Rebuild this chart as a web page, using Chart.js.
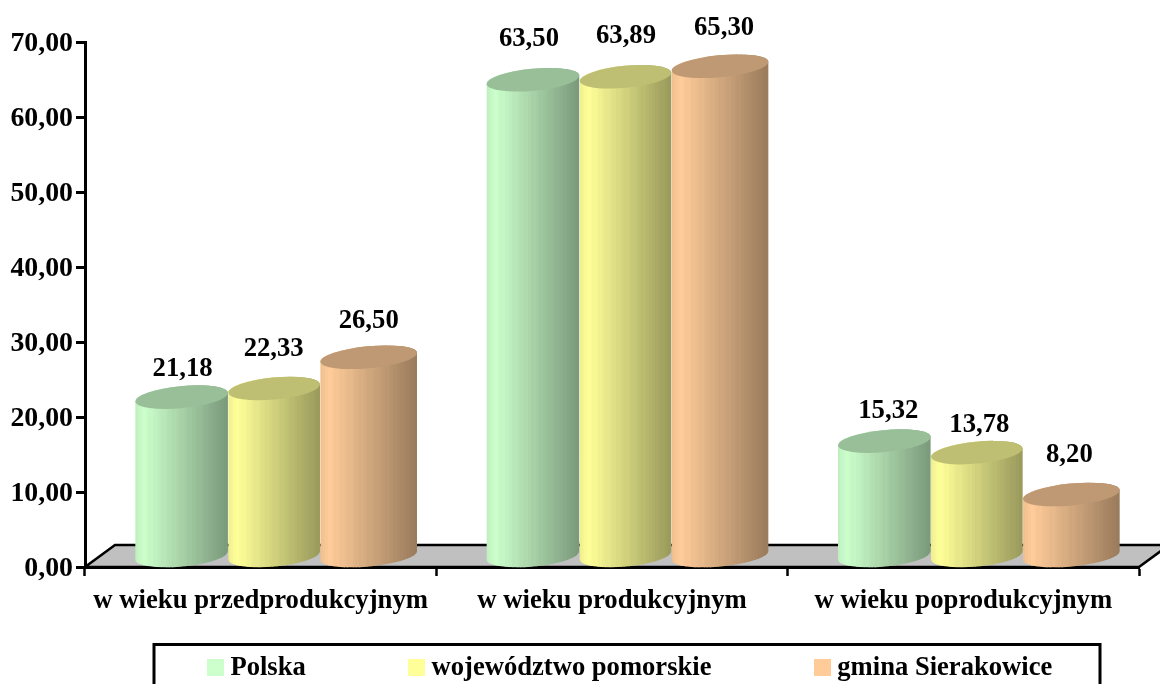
<!DOCTYPE html>
<html><head><meta charset="utf-8">
<style>html,body{margin:0;padding:0;background:#fff;overflow:hidden}canvas{display:block}</style>
<script src="https://cdn.jsdelivr.net/npm/chart.js@4"></script>
</head><body><canvas id="c" width="1160" height="684"></canvas>
<script>
const categories = ['w wieku przedprodukcyjnym', 'w wieku produkcyjnym', 'w wieku poprodukcyjnym'];
const seriesNames = ['Polska', 'województwo pomorskie', 'gmina Sierakowice'];
const polska = [21.18, 63.50, 15.32];
const pomorskie = [22.33, 63.89, 13.78];
const sierakowice = [26.50, 65.30, 8.20];
const seriesColors = [[204,255,204], [255,255,153], [255,204,153]];
// hand placement of the value labels relative to the bar top [dx, dy]
const labelNudge = [
  [[1,-28],[-2,-39],[-1,-36]],
  [[-4,-41],[-1,-41],[3,-38]],
  [[4,-30],[1,-28],[-3,-39]]
];
// small left/right overlap of each series' cylinder, as in the 3-D original
const cylinderGrow = [[0,-1],[1,-3],[3,0]];
const FONT = '"Liberation Serif","Times New Roman",serif';
const DX = 15.5, DY = 11, ROT = -5.4*Math.PI/180;
const fmt = v => Number(v).toFixed(2).replace('.', ',');
const rgb = (c,f,a=1) => `rgba(${Math.round(c[0]*f)},${Math.round(c[1]*f)},${Math.round(c[2]*f)},${a})`;

function marker(c){
  const m=document.createElement('canvas'); m.width=17; m.height=17;
  const x=m.getContext('2d'); x.fillStyle=rgb(c,1); x.fillRect(0,0,17,17); return m;
}
const stripWidths=[.03,.025,.03,.035,.02,.06,.045,.03,.06,.025,.035,.05,.03,.055,.025,.05,.03,.025,.05,.03,.04,.03,.04,.03,.035,.03,.035];

function cylinder(ctx,bar,c,grow){
  const w=bar.width+grow[0]+grow[1], rx=w/2, ry=11, cx=bar.x+DX+(grow[1]-grow[0])/2, topY=bar.y-DY, baseY=bar.base-DY;
  const lx=cx-rx, cosv=Math.cos(ROT), sinv=Math.sin(ROT);
  ctx.save();
  ctx.beginPath();
  ctx.ellipse(cx,baseY,rx,ry,ROT,0,Math.PI,false);
  ctx.lineTo(cx-rx*cosv,topY-rx*sinv);
  ctx.ellipse(cx,topY,rx,ry,ROT,Math.PI,2*Math.PI,false);
  ctx.closePath();
  ctx.clip();
  let t=0; const total=stripWidths.reduce((a,b)=>a+b,0);
  stripWidths.forEach((s,i)=>{
    const n=s/total, mid=t+n/2;
    const f= mid<.1 ? .93+.07*mid/.1 : 1-.40*(mid-.1)/.9;
    const x0=lx+t*w, x1=lx+(t+n)*w;
    ctx.fillStyle=rgb(c,f);
    ctx.fillRect(x0-.5,topY-30,x1-x0+1,baseY-topY+60);
    if(i>1&&(i%2===1||i>14)){ ctx.fillStyle='rgba(255,255,255,.28)'; ctx.fillRect(Math.round(x1),topY-30,1,baseY-topY+60); }
    if(!(i>=6&&i<=9)){ ctx.fillStyle='rgba(0,0,0,.42)'; ctx.fillRect(Math.round(x1),bar.base-25,1,4); }
    t+=n;
  });
  ctx.restore();
  ctx.beginPath();
  ctx.ellipse(cx,topY,rx,ry,ROT,0,2*Math.PI);
  ctx.fillStyle=rgb(c,.75);
  ctx.fill();
}
const cylinders={
  id:'cylinders',
  beforeDraw(chart){
    const {ctx,chartArea:a}=chart;
    ctx.save();
    ctx.beginPath();
    ctx.moveTo(a.left,a.bottom);ctx.lineTo(a.left+30,a.bottom-22);
    ctx.lineTo(a.right+30,a.bottom-22);ctx.lineTo(a.right,a.bottom);ctx.closePath();
    ctx.fillStyle='#C0C0C0';ctx.fill();
    ctx.strokeStyle='#000';ctx.lineWidth=2.5;ctx.stroke();
    ctx.restore();
  },
  beforeDatasetsDraw(chart){
    const ctx=chart.ctx;
    chart.data.datasets.forEach((d,i)=>{
      chart.getDatasetMeta(i).data.forEach(bar=>cylinder(ctx,bar,seriesColors[i],cylinderGrow[i]));
    });
    ctx.save();
    ctx.fillStyle='#000';ctx.font='bold 26.7px '+FONT;ctx.textAlign='center';ctx.textBaseline='middle';
    chart.data.datasets.forEach((d,i)=>{
      chart.getDatasetMeta(i).data.forEach((bar,j)=>{
        const n=labelNudge[j][i];
        ctx.fillText(fmt(d.data[j]),bar.x+15+n[0],bar.y-DY+n[1]);
      });
    });
    ctx.restore();
    return false;
  },
  afterLayout(chart){
    const l=chart.legend; l.left=104.6; l.right=1400; l.top=545;
  },
  afterDraw(chart){
    const ctx=chart.ctx;
    ctx.save();ctx.strokeStyle='#000';ctx.lineWidth=3;
    ctx.beginPath();ctx.moveTo(154,700);ctx.lineTo(154,644.5);ctx.lineTo(1100,644.5);ctx.lineTo(1100,700);ctx.stroke();
    ctx.restore();
  }
};
new Chart(document.getElementById('c'),{
  type:'bar',
  data:{labels:categories,datasets:[
    {label:seriesNames[0],data:polska,backgroundColor:rgb(seriesColors[0],1)},
    {label:seriesNames[1],data:pomorskie,backgroundColor:rgb(seriesColors[1],1)},
    {label:seriesNames[2],data:sierakowice,backgroundColor:rgb(seriesColors[2],1)}
  ]},
  plugins:[cylinders],
  options:{
    responsive:false,animation:false,
    layout:{padding:{top:42,right:21,left:0,bottom:0}},
    datasets:{bar:{barPercentage:1,categoryPercentage:.803}},
    plugins:{
      tooltip:{enabled:false},
      legend:{position:'bottom',align:'start',maxHeight:40,
        labels:{color:'#000',font:{family:FONT,weight:'bold',size:26.6},padding:109.5,usePointStyle:true,pointStyleWidth:3,
          generateLabels:ch=>ch.data.datasets.map((d,i)=>({text:d.label,datasetIndex:i,fillStyle:d.backgroundColor,strokeStyle:d.backgroundColor,lineWidth:0,pointStyle:marker(seriesColors[i]),fontColor:'#000'}))}}
    },
    scales:{
      y:{min:0,max:70,
        afterFit:s=>{s.width=85;},
        border:{color:'#000',width:3},
        grid:{drawOnChartArea:false,drawTicks:true,tickLength:9,tickColor:'#000',tickWidth:3},
        ticks:{stepSize:10,padding:3,labelOffset:2,color:'#000',font:{family:FONT,weight:'bold',size:27.8},callback:v=>fmt(v)}},
      x:{
        afterFit:s=>{s.height=77;},
        border:{color:'#000',width:3},
        grid:{drawOnChartArea:false,drawTicks:true,tickLength:9,tickColor:'#000',tickWidth:2.5},
        ticks:{padding:9,color:'#000',maxRotation:0,autoSkip:false,font:{family:FONT,weight:'bold',size:26.7}}}
    }
  }
});
</script></body></html>
